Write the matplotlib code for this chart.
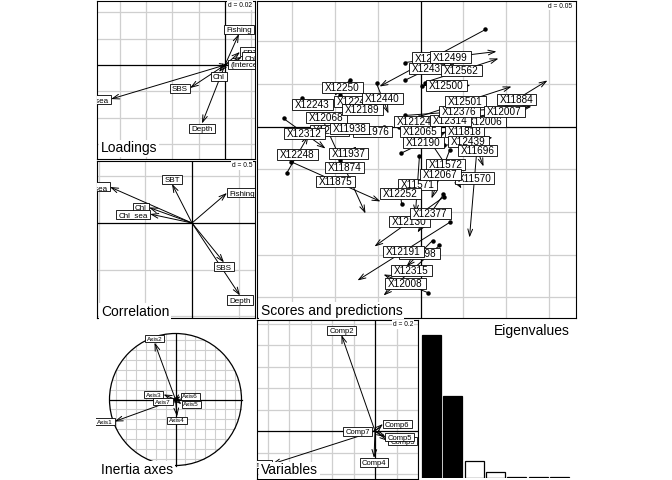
import numpy as np
import matplotlib
matplotlib.use("Agg")
import matplotlib.pyplot as plt
from matplotlib.patches import FancyArrowPatch, Rectangle, Circle

plt.rcParams['font.family'] = ['Liberation Sans', 'DejaVu Sans']

# ---------------- data ----------------
load_names = ['Fishing', 'SBT', 'Chl_sea', '(Intercept)', 'Chl', 'SBS', 'Depth', 'SBT_sea']
load_x = [0.0106, 0.0114, 0.0129, 0.0023, -0.0046, -0.0266, -0.0175, -0.0867]
load_y = [0.0236, 0.0099, 0.0061, 0.0004, -0.0053, -0.0175, -0.0445, -0.0259]

corr_names = ['SBT', 'Fishing', 'SBT_sea', 'Chl', 'Chl_sea', 'SBS', 'Depth']
corr_x = [-0.214, 0.375, -0.879, -0.461, -0.450, 0.343, 0.514]
corr_y = [0.418, 0.322, 0.386, 0.166, 0.096, -0.423, -0.777]

axis_names = ['Axis1', 'Axis2', 'Axis3', 'Axis4', 'Axis5', 'Axis6', 'Axis7']
axis_x = [-0.924, -0.318, -0.182, 0.023, 0.091, 0.076, -0.045]
axis_y = [-0.333, 0.864, 0.076, -0.258, -0.071, 0.050, -0.026]

comp_names = ['Comp1', 'Comp2', 'Comp3', 'Comp4', 'Comp5', 'Comp6', 'Comp7']
comp_x = [-0.958, -0.312, 0.121, -0.009, 0.093, 0.074, -0.028]
comp_y = [-0.307, 0.893, -0.093, -0.251, -0.056, 0.065, -0.005]

eig_values = [1.0, 0.573, 0.119, 0.042, 0.010, 0.007, 0.004]
n_kept = 2

score_names = ['X12436', 'X12437', 'X12243', 'X12245', 'X12068', 'X12311', 'X11976',
               'X12124', 'X12065', 'X11818', 'X12198', 'X12130', 'X11570', 'X11571',
               'X12250', 'X12440', 'X12189', 'X11938', 'X12312', 'X12248', 'X11937',
               'X11874', 'X11875', 'X12252', 'X12499', 'X12562', 'X12500', 'X11884',
               'X12006', 'X12314', 'X12376', 'X12501', 'X12007', 'X12190', 'X12439',
               'X11696', 'X11572', 'X12067', 'X12377', 'X12191', 'X12315', 'X12008']
score_x1 = [0.0761, -0.0187, -0.1393, -0.0948, -0.1300, -0.1241, -0.0422,
            -0.0246, -0.0129, 0.0398, 0.0141, 0.0281, 0.0691, -0.0012,
            -0.0820, -0.0515, -0.0831, -0.0691, -0.1604, -0.1569, -0.0937,
            -0.1136, -0.1522, -0.0222, -0.0187, 0.0047, 0.0023, 0.0761,
            0.0340, -0.0012, -0.0187, -0.0012, 0.0667, -0.0234, 0.0281,
            0.0597, 0.0105, 0.0340, 0.0269, 0.0340, 0.0222, 0.0082]
score_y1 = [0.1136, 0.0539, 0.0328, 0.0363, 0.0070, -0.0023, 0.0000,
            0.0000, -0.0023, -0.0105, -0.1335, -0.0820, 0.0094, -0.0340,
            0.0550, 0.0504, 0.0187, -0.0059, 0.0094, -0.0550, -0.0398,
            0.0059, -0.0410, -0.0902, 0.0749, 0.0515, 0.0480, 0.0094,
            -0.0047, -0.0023, 0.0129, 0.0117, 0.0117, -0.0316, -0.0222,
            -0.0094, -0.0164, -0.0281, -0.0796, -0.1124, -0.1393, -0.1944]
score_x2 = [-0.0480, 0.0398, -0.1136, -0.0597, -0.0902, -0.0890, -0.0703,
            0.0105, 0.0129, 0.0632, -0.0164, -0.0539, 0.0574, -0.0059,
            -0.1007, -0.0375, -0.0527, -0.0972, -0.1112, -0.1311, -0.0749,
            -0.0644, -0.0468, -0.0246, 0.0890, 0.0913, 0.0585, 0.1487,
            0.1183, 0.0714, 0.1101, 0.1066, 0.1300, 0.0304, 0.0843,
            0.0738, 0.0480, 0.0129, -0.0035, -0.0738, -0.0433, -0.0433]
score_y2 = [0.0468, 0.0820, 0.0187, 0.0222, 0.0141, -0.0070, -0.0117,
            0.0117, -0.0094, -0.0012, -0.1639, -0.1405, -0.1300, -0.1019,
            0.0363, 0.0152, 0.0211, 0.0012, -0.0258, -0.0105, -0.0234,
            -0.1019, -0.0878, -0.0667, 0.0878, 0.0796, 0.0480, 0.0539,
            0.0164, 0.0164, 0.0222, 0.0468, 0.0234, -0.0059, -0.0129,
            -0.0468, -0.0726, -0.0843, -0.1241, -0.1803, -0.1979, -0.1733]

# ---------------- figure ----------------
W, H = 672, 480
fig = plt.figure(figsize=(W / 100, H / 100), dpi=100)
renderer = fig.canvas.get_renderer()
GRID = '#cfcfcf'


def make_axes(x0, y0, x1, y1):
    ax = fig.add_axes([x0 / W, 1 - y1 / H, (x1 - x0) / W, (y1 - y0) / H])
    ax.set_xticks([])
    ax.set_yticks([])
    return ax


def set_scale(ax, x0, y0, x1, y1, ox, oy, ppu):
    ax.set_xlim((x0 - ox) / ppu, (x1 - ox) / ppu)
    ax.set_ylim((oy - y1) / ppu, (oy - y0) / ppu)


def frame(ax):
    for s in ax.spines.values():
        s.set_linewidth(0.8)
        s.set_color('black')


def draw_grid(ax, step):
    xl, yl = ax.get_xlim(), ax.get_ylim()
    for k in range(int(np.floor(xl[0] / step)), int(np.ceil(xl[1] / step)) + 1):
        if k != 0:
            ax.axvline(k * step, color=GRID, lw=0.9, zorder=1)
    for k in range(int(np.floor(yl[0] / step)), int(np.ceil(yl[1] / step)) + 1):
        if k != 0:
            ax.axhline(k * step, color=GRID, lw=0.9, zorder=1)
    ax.axhline(0, color='black', lw=0.9, zorder=2)
    ax.axvline(0, color='black', lw=0.9, zorder=2)


def text_width(s, fs):
    t = fig.text(0, 0, s, fontsize=fs)
    w = t.get_window_extent(renderer).width
    t.remove()
    return w


def box_size(s, fs):
    em = fs * 100 / 72.0
    return text_width(s, fs) + 0.56 * em, 1.12 * em


def boxed(ax, cx, cy, s, fs, z, lw=0.6):
    """Label with white box, centre given in display pixels."""
    em = fs * 100 / 72.0
    cap = 0.72 * em
    bw, bh = box_size(s, fs)
    inv = ax.transData.inverted()
    tx, ty = inv.transform((cx, cy - cap / 2))
    ax.text(tx, ty, s, fontsize=fs, ha='center', va='baseline', zorder=z + 1,
            clip_on=True)
    x0, y0 = inv.transform((cx - bw / 2, cy - bh / 2))
    x1, y1 = inv.transform((cx + bw / 2, cy + bh / 2))
    ax.add_patch(Rectangle((x0, y0), x1 - x0, y1 - y0, fc='white', ec='black',
                           lw=lw, zorder=z))


def arrow(ax, p0, p1, z=5, lw=0.7):
    ax.add_patch(FancyArrowPatch(p0, p1, arrowstyle='->,head_length=0.5,head_width=0.17',
                                 mutation_scale=10, lw=lw, color='black',
                                 shrinkA=0, shrinkB=0, zorder=z))


def arrows_with_labels(ax, xs, ys, names, fs):
    ox, oy = ax.transData.transform((0, 0))
    for i, (x, y) in enumerate(zip(xs, ys)):
        arrow(ax, (0, 0), (x, y))
    for i, (x, y, s) in enumerate(zip(xs, ys, names)):
        tx, ty = ax.transData.transform((x, y))
        dx, dy = tx - ox, ty - oy
        bw, bh = box_size(s, fs)
        if abs(dx) > abs(dy):
            cx, cy = tx + np.sign(dx) * bw / 2, ty
        else:
            cx, cy = tx, ty + np.sign(dy) * bh / 2
        boxed(ax, cx, cy, s, fs, 20 + 2 * i)


def title(x, y, s, ha='left'):
    fig.text(x / W, 1 - y / H, s, fontsize=10, ha=ha, va='baseline', zorder=60,
             bbox=dict(fc='white', ec='none', pad=1.2))


def dlabel(x, y, s):
    fig.text(x / W, 1 - y / H, s, fontsize=4.8, ha='right', va='center', zorder=60,
             bbox=dict(fc='white', ec='none', pad=0.6))


# ---- Loadings ----
ax = make_axes(97, 1, 255, 159)
set_scale(ax, 97, 1, 255, 159, 225, 65, 1315)
frame(ax)
draw_grid(ax, 0.02)
arrows_with_labels(ax, load_x, load_y, load_names, 5.8)
dlabel(252, 5.5, 'd = 0.02')
title(101, 152.5, 'Loadings')

# ---- Correlation ----
ax = make_axes(97, 161, 255, 318)
set_scale(ax, 97, 161, 255, 318, 192, 223, 93.3)
frame(ax)
draw_grid(ax, 0.5)
arrows_with_labels(ax, corr_x, corr_y, corr_names, 5.8)
dlabel(252, 165.5, 'd = 0.5')
title(101, 316, 'Correlation')

# ---- Scores and predictions ----
ax = make_axes(257, 1, 576, 318)
set_scale(ax, 257, 1, 576, 318, 420.5, 126.5, 854)
frame(ax)
draw_grid(ax, 0.05)
ax.plot(score_x1, score_y1, 'o', ms=2.2, color='black', zorder=4, clip_on=True)
for a, b, c, d in zip(score_x1, score_y1, score_x2, score_y2):
    arrow(ax, (a, b), (c, d))
for i, s in enumerate(score_names):
    mx = (score_x1[i] + score_x2[i]) / 2
    my = (score_y1[i] + score_y2[i]) / 2
    cx, cy = ax.transData.transform((mx, my))
    boxed(ax, cx, cy, s, 7.2, 20 + 2 * i)
dlabel(572, 6, 'd = 0.05')
title(261, 314.5, 'Scores and predictions')

# ---- Inertia axes ----
ax = make_axes(96, 320, 256, 480)
set_scale(ax, 96, 320, 256, 480, 175.5, 399.5, 66)
ax.axis('off')
step = 0.15
for k in range(-6, 7):
    v = k * step
    if abs(v) < 1 and k != 0:
        h = np.sqrt(1 - v * v)
        ax.plot([v, v], [-h, h], color=GRID, lw=0.8, zorder=1)
        ax.plot([-h, h], [v, v], color=GRID, lw=0.8, zorder=1)
ax.plot([-1, 1], [0, 0], color='black', lw=0.9, zorder=2)
ax.plot([0, 0], [-1, 1], color='black', lw=0.9, zorder=2)
ax.add_patch(Circle((0, 0), 1, fill=False, ec='black', lw=0.9, zorder=3))
arrows_with_labels(ax, axis_x, axis_y, axis_names, 4.6)
title(101, 474, 'Inertia axes')

# ---- Variables ----
ax = make_axes(257, 320, 418, 479)
set_scale(ax, 257, 320, 418, 479, 375, 431, 107.5)
frame(ax)
draw_grid(ax, 0.2)
arrows_with_labels(ax, comp_x, comp_y, comp_names, 5.5)
dlabel(413, 324.5, 'd = 0.2')
title(261, 474.5, 'Variables')

# ---- Eigenvalues ----
ax = make_axes(419, 320, 577, 478)
pos = np.arange(1, len(eig_values) + 1)
cols = ['black' if i < n_kept else 'white' for i in range(len(eig_values))]
ax.bar(pos, eig_values, width=0.88, color=cols, edgecolor='black', lw=0.9)
ax.set_xlim(0.415, 7.82)
ax.set_ylim(0, eig_values[0] * 158 / 143)
ax.axis('off')
title(570, 335, 'Eigenvalues', ha='right')

fig.savefig('out.png', dpi=100)
